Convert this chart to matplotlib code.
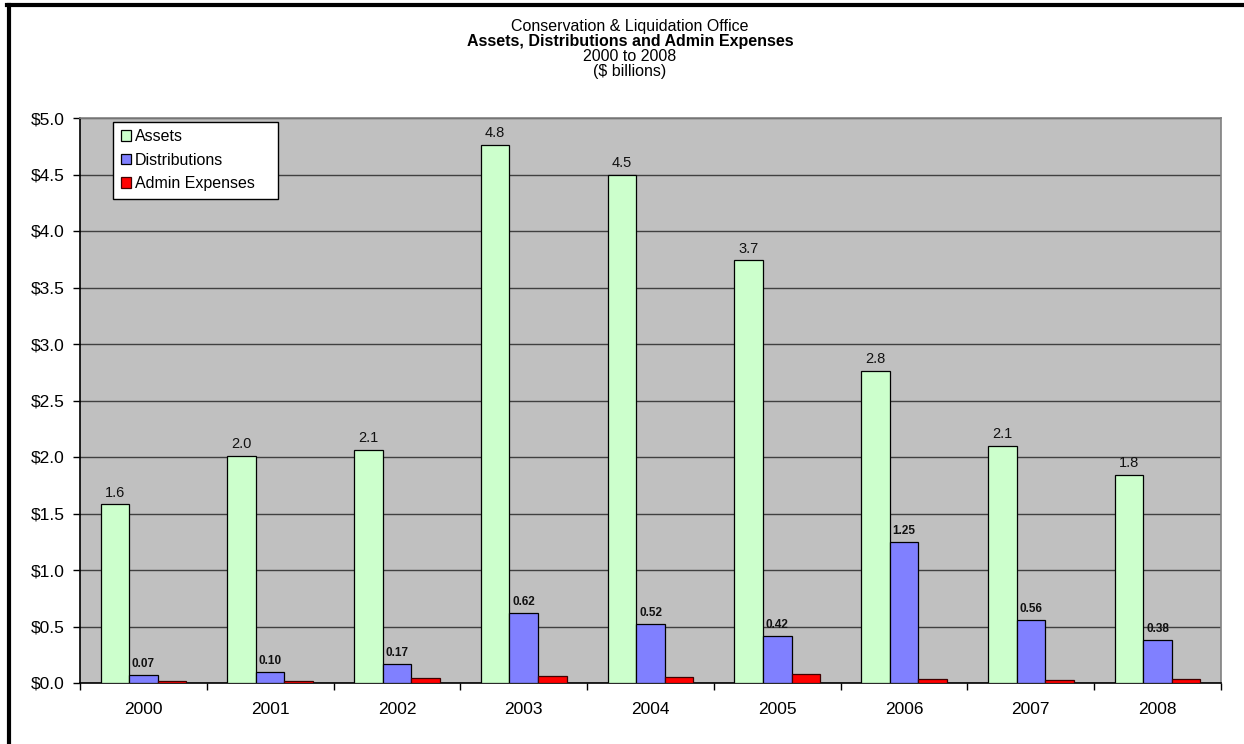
import matplotlib
matplotlib.use("Agg")
import matplotlib.pyplot as plt
import numpy as np
from matplotlib.lines import Line2D
from matplotlib.ticker import FuncFormatter, MultipleLocator

plt.rcParams['font.family'] = ['Liberation Sans', 'DejaVu Sans']

years = ['2000', '2001', '2002', '2003', '2004', '2005', '2006', '2007', '2008']
assets = [1.58, 2.01, 2.06, 4.76, 4.50, 3.74, 2.76, 2.10, 1.84]
distributions = [0.07, 0.10, 0.17, 0.62, 0.52, 0.42, 1.25, 0.56, 0.38]
admin_expenses = [0.02, 0.02, 0.04, 0.06, 0.05, 0.08, 0.035, 0.025, 0.035]
series_names = ['Assets', 'Distributions', 'Admin Expenses']
series_colors = ['#CCFFCC', '#8080FF', '#FF0000']
title_lines = ['Conservation & Liquidation Office',
               'Assets, Distributions and Admin Expenses',
               '2000 to 2008',
               '($ billions)']

fig = plt.figure(figsize=(12.44, 7.44), dpi=100)
ax = fig.add_axes([80/1244, 61/744, 1141/1244, 565/744])
ax.set_facecolor('#C0C0C0')

x = np.arange(len(years))
w = 0.225
ax.bar(x - w, assets, w, color=series_colors[0], edgecolor='black', linewidth=0.9, label=series_names[0], zorder=3)
ax.bar(x, distributions, w, color=series_colors[1], edgecolor='black', linewidth=0.9, label=series_names[1], zorder=3)
ax.bar(x + w, admin_expenses, w, color=series_colors[2], edgecolor='#400000', linewidth=0.9, label=series_names[2], zorder=3)

for xi, v in zip(x, assets):
    ax.annotate(f"{v:.1f}", (xi - w, v), xytext=(0, 3.5), textcoords='offset points',
                ha='center', va='bottom', fontsize=10.5, color='#111111', zorder=4)
for xi, v in zip(x, distributions):
    ax.annotate(f"{v:.2f}", (xi, v), xytext=(0, 3.5), textcoords='offset points',
                ha='center', va='bottom', fontsize=8.5, fontweight='bold', color='#111111', zorder=4)

ax.set_xlim(-0.5, len(years) - 0.5)
ax.set_ylim(0, 5.0)
ax.yaxis.set_major_locator(MultipleLocator(0.5))
ax.yaxis.set_major_formatter(FuncFormatter(lambda v, p: f"${v:.1f}"))
ax.grid(axis='y', color='#404040', linewidth=1.0, zorder=1)
ax.set_axisbelow(True)

ax.set_xticks(x)
ax.set_xticklabels(years)
ax.set_xticks(np.arange(-0.5, len(years) + 0.5, 1.0), minor=True)
ax.tick_params(axis='x', which='major', length=0, pad=14, labelsize=12.5)
ax.tick_params(axis='x', which='minor', length=5, direction='out', width=1, color='black')
ax.tick_params(axis='y', which='major', length=5, direction='out', width=1, pad=6, labelsize=12.5)

for s in ['left', 'bottom']:
    ax.spines[s].set_color('black')
    ax.spines[s].set_linewidth(1.2)
for s in ['top', 'right']:
    ax.spines[s].set_color('#808080')
    ax.spines[s].set_linewidth(1.2)

leg = ax.legend(loc='upper left', bbox_to_anchor=(0.0292, 0.861, 0.1446, 0.1325), mode='expand',
                borderaxespad=0, fancybox=False, framealpha=1, edgecolor='black', fontsize=11.5,
                handlelength=0.65, handleheight=0.65, handletextpad=0.25,
                labelspacing=0.55, borderpad=0.45)
leg.get_frame().set_linewidth(1.0)
leg.set_zorder(5)

cx = 630/1244
baselines = [30.5, 45.7, 60.9, 76.1]
weights = ['normal', 'bold', 'normal', 'normal']
for txt, yb, wt in zip(title_lines, baselines, weights):
    fig.text(cx, 1 - yb/744, txt, ha='center', va='baseline', fontsize=11.5, fontweight=wt)

fig.add_artist(Line2D([7/1244, 1.0], [1 - 5/744, 1 - 5/744], color='black', linewidth=3, transform=fig.transFigure))
fig.add_artist(Line2D([9/1244, 9/1244], [0.0, 1 - 5/744], color='black', linewidth=3, transform=fig.transFigure))

fig.savefig('out.png', dpi=100)
